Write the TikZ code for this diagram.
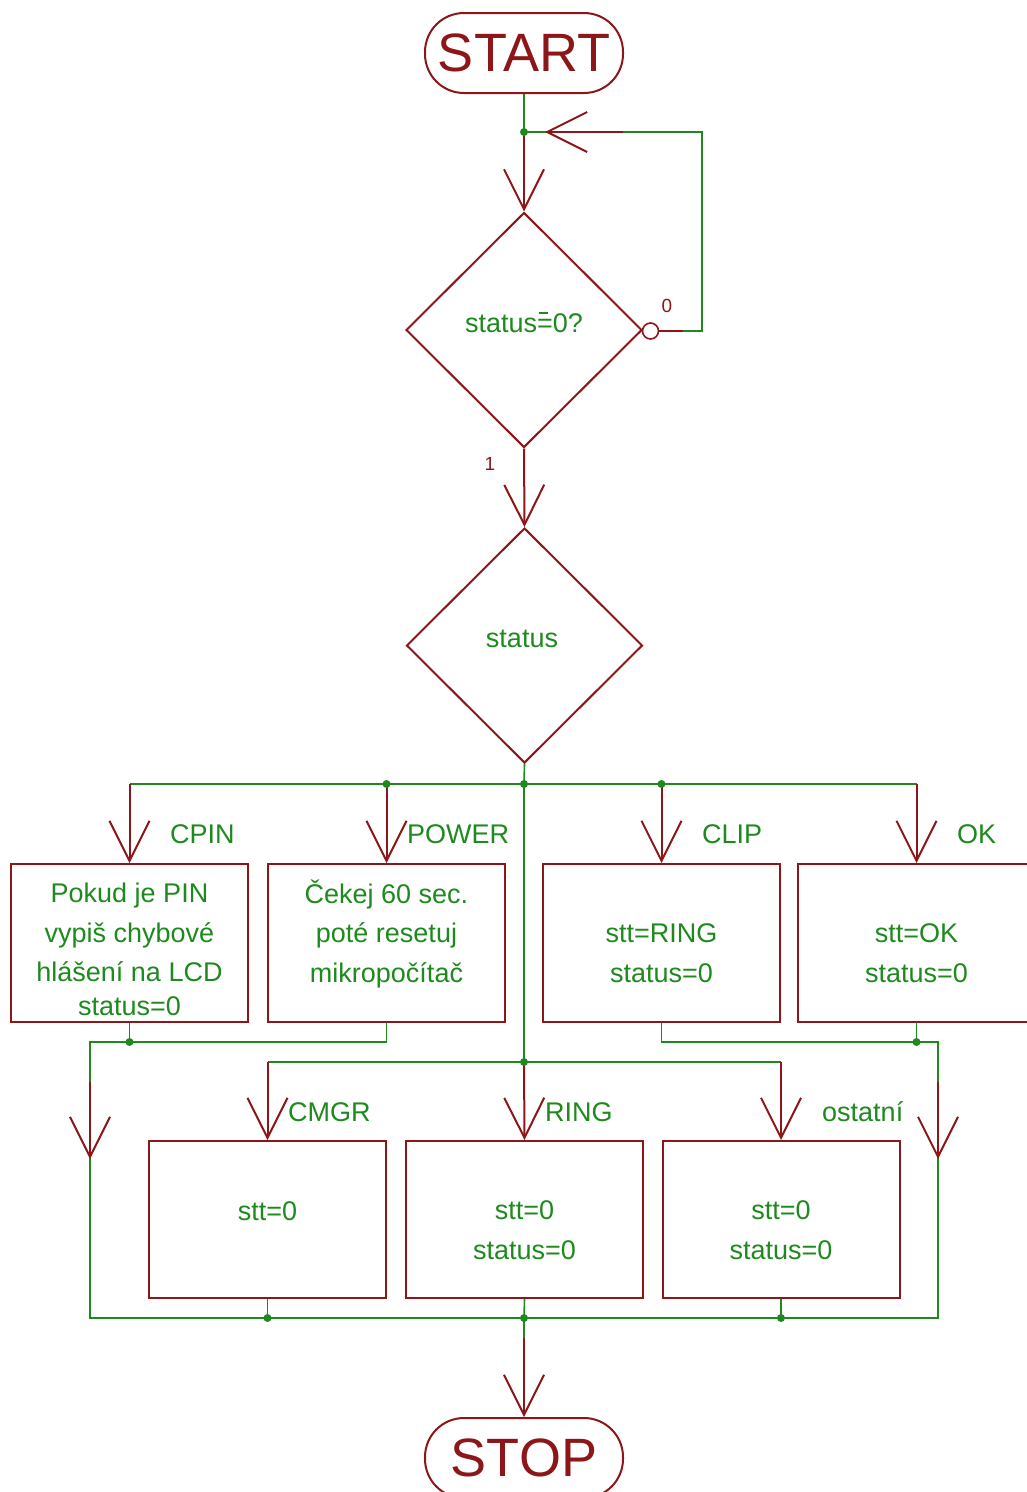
\documentclass[tikz,border=0pt]{standalone}
\usepackage{fontspec}
\setmainfont{Liberation Sans}
\usetikzlibrary{arrows.meta,shapes.geometric}
\definecolor{mred}{RGB}{140,22,24}
\definecolor{mgreen}{RGB}{30,138,30}
\newcommand\eqbar{\makebox[0pt][l]{\hspace{0.08em}\raisebox{0.66em}{\rule{0.32em}{1.8pt}}}=}
\begin{document}
\begin{tikzpicture}[x=1pt,y=-1pt,
  wire/.style={draw=mgreen,line width=1.6pt},
  redline/.style={draw=mred,line width=2pt},
  flow/.style={draw=mred,line width=2pt,-{Straight Barb[length=40pt,width=40pt,line width=2pt]}},
  term/.style={draw=mred,line width=2pt,rounded corners=39pt,minimum width=198pt,minimum height=80pt,inner sep=0pt,text=mred,font=\fontsize{54}{60}\selectfont},
  proc/.style={draw=mred,line width=2pt,minimum width=237pt,minimum height=158pt,inner sep=0pt},
  dec/.style={diamond,draw=mred,line width=2pt,minimum width=236pt,minimum height=235pt,inner sep=0pt},
  txt/.style={text=mgreen,font=\fontsize{27}{39.5}\selectfont,inner sep=0pt,anchor=base,align=center},
  lab/.style={text=mgreen,font=\fontsize{27}{32}\selectfont,inner sep=0pt,anchor=base west},
  num/.style={text=mred,font=\fontsize{19}{21}\selectfont,inner sep=0pt,anchor=base},
  dot/.style={circle,fill=mgreen,inner sep=0pt,minimum size=8pt}]
\useasboundingbox (0,0) rectangle (1027,1492);
\clip (0,0) rectangle (1027,1492);

% terminals and decisions
\node[term] (start) at (524,53) {START};
\node[dec] (d1) at (524,330) {};
\node[txt] (d1t) at (524,332) {status\eqbar0?};
\node[dec] (d2) at (524.5,645.5) {};
\node[txt] (d2t) at (522,647) {status};
\node[term] (stop) at (524,1458) {STOP};

% process boxes, upper row
\node[proc] (p1) at (129.5,943) {};
\node[proc] (p2) at (386.5,943) {};
\node[proc] (p3) at (661.5,943) {};
\node[proc] (p4) at (916.5,943) {};
% process boxes, lower row
\node[proc,minimum height=157pt] (q1) at (267.5,1219.5) {};
\node[proc,minimum height=157pt] (q2) at (524.5,1219.5) {};
\node[proc,minimum height=157pt] (q3) at (781,1219.5) {};

% box texts (anchor base = last line)
\node[txt] (p1t) at (129.5,1015) {Pokud je PIN\\vypiš chybové\\hlášení na LCD\\[-6pt]status=0};
\node[txt] (p2t) at (386.5,982) {Čekej 60 sec.\\poté resetuj\\mikropočítač};
\node[txt] (p3t) at (661.5,982) {stt=RING\\status=0};
\node[txt] (p4t) at (916.5,982) {stt=OK\\status=0};
\node[txt] (q1t) at (267.5,1220) {stt=0};
\node[txt] (q2t) at (524.5,1259) {stt=0\\status=0};
\node[txt] (q3t) at (781,1259) {stt=0\\status=0};

% coordinates
\coordinate (j1) at (524,132);
\coordinate (lred) at (623,132);
\coordinate (lt) at (702,132);
\coordinate (lr) at (702,331);
\coordinate (lg) at (683,331);
\coordinate (j2) at (524,784);
\coordinate (j3) at (524,1062);
\coordinate (L) at (90,1042);
\coordinate (R) at (938,1042);
\coordinate (LB) at (90,1318);
\coordinate (RB) at (938,1318);
\coordinate (la1) at (90,1082);
\coordinate (la2) at (90,1159);
\coordinate (ra1) at (938,1082);
\coordinate (ra2) at (938,1159);
\coordinate (j4) at (524,1318);
\coordinate (s1) at (524,1338);

% top loop
\draw[wire] (start.south) -- (j1);
\draw[flow] (j1) -- (d1.north);
\node[circle,draw=mred,line width=1.6pt,minimum size=16pt,inner sep=0pt] (neg) at (650.5,331) {};
\draw[redline] (neg.east) -- (lg);
\draw[wire] (lg) -- (lr) -- (lt) -- (j1);
\draw[flow,shorten >=21pt] (lred) -- (j1);
\node[num] (n0) at (667,312) {0};
\node[num] (n1) at (490,470) {1};
\node[dot] (j1d) at (j1) {};

% second decision
\draw[flow] (d1.south) -- (d2.north);
\draw[wire] (d2.south) -- (j2);
\draw[wire] (p1.north |- j2) -- (p4.north |- j2);
\draw[flow] (p1.north |- j2) -- (p1.north);
\draw[flow] (p2.north |- j2) -- (p2.north);
\draw[flow] (p3.north |- j2) -- (p3.north);
\draw[flow] (p4.north |- j2) -- (p4.north);
\node[dot] (j2d) at (j2) {};
\node[dot] (b2d) at (p2.north |- j2) {};
\node[dot] (b3d) at (p3.north |- j2) {};
\node[lab] (lcpin) at (170,843) {CPIN};
\node[lab] (lpow) at (407,843) {POWER};
\node[lab] (lclip) at (702,843) {CLIP};
\node[lab] (lok) at (957,843) {OK};

% middle branch
\draw[wire] (j2) -- (j3);
\draw[wire] (q1.north |- j3) -- (q3.north |- j3);
\draw[flow] (q1.north |- j3) -- (q1.north);
\draw[flow] (j3) -- (q2.north);
\draw[flow] (q3.north |- j3) -- (q3.north);
\node[dot] (j3d) at (j3) {};
\node[lab] (lcmgr) at (288,1121) {CMGR};
\node[lab] (lring) at (545,1121) {RING};
\node[lab] (lost) at (822,1121) {ostatní};

% returns
\draw[wire] (p1.south) -- (p1.south |- L);
\draw[wire] (p2.south) |- (L) -- (LB) -- (RB) -- (R) -| (p3.south);
\draw[wire] (p4.south) -- (p4.south |- R);
\node[dot] (p1d) at (p1.south |- L) {};
\node[dot] (p4d) at (p4.south |- R) {};
\draw[flow] (la1) -- (la2);
\draw[flow] (ra1) -- (ra2);
\draw[wire] (q1.south) -- (q1.south |- LB);
\draw[wire] (q2.south) -- (j4);
\draw[wire] (q3.south) -- (q3.south |- LB);
\node[dot] (q1d) at (q1.south |- LB) {};
\node[dot] (q3d) at (q3.south |- LB) {};
\draw[wire] (j4) -- (s1);
\draw[flow] (s1) -- (stop.north);
\node[dot] (j4d) at (j4) {};
\end{tikzpicture}
\end{document}
